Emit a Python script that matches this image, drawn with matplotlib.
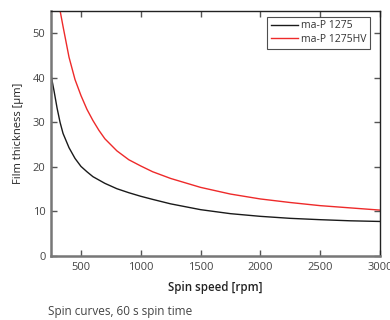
import numpy as np
import matplotlib
matplotlib.use("Agg")
import matplotlib.pyplot as plt

plt.rcParams['font.family'] = ['Open Sans', 'DejaVu Sans']

# spin curves
rpm_1275 = [250, 275, 300, 325, 350, 400, 450, 500, 550, 600, 700, 800, 900,
            1000, 1100, 1250, 1500, 1750, 2000, 2250, 2500, 2750, 3000]
t_1275 = [40.5, 37.0, 33.2, 30.0, 27.5, 24.3, 21.9, 20.1, 18.9, 17.8, 16.3, 15.1, 14.2,
          13.4, 12.7, 11.7, 10.4, 9.5, 8.9, 8.45, 8.15, 7.9, 7.75]

rpm_1275hv = [320, 350, 400, 450, 500, 550, 600, 650, 700, 800, 900, 1000, 1100,
              1250, 1500, 1750, 2000, 2250, 2500, 2750, 3000]
t_1275hv = [55.8, 51.5, 44.6, 39.6, 36.0, 32.9, 30.4, 28.2, 26.3, 23.6, 21.6, 20.2, 18.9,
            17.4, 15.4, 13.9, 12.8, 12.0, 11.3, 10.8, 10.3]

x_ticks = [500, 1000, 1500, 2000, 2500, 3000]
y_ticks = [0, 10, 20, 30, 40, 50]

fig = plt.figure(figsize=(3.9, 3.2), dpi=100)
ax = fig.add_axes([0.131, 0.2, 0.843, 0.766])

ax.plot(rpm_1275, t_1275, color='#1a1a1a', lw=1.0, label='ma-P 1275')
ax.plot(rpm_1275hv, t_1275hv, color='#ee2a2a', lw=1.0, label='ma-P 1275HV')

ax.set_xlim(250, 3000)
ax.set_ylim(0, 55)
ax.set_xticks(x_ticks)
ax.set_yticks(y_ticks)

for side in ['left', 'bottom']:
    ax.spines[side].set_color('#777777')
    ax.spines[side].set_linewidth(1.8)
for side in ['top', 'right']:
    ax.spines[side].set_color('#222222')
    ax.spines[side].set_linewidth(1.0)

ax.tick_params(direction='in', length=4, width=1, colors='#555555',
               labelsize=8, top=True, right=True, pad=4)
ax.tick_params(axis='both', labelcolor='#444444')

ax.set_xlabel('Spin speed [rpm]', fontsize=8.3, fontweight='semibold', color='#222222', labelpad=6)
ax.set_ylabel('Film thickness [µm]', fontsize=8, color='#222222', labelpad=6)

leg = ax.legend(loc='upper right', bbox_to_anchor=(0.97, 0.976), fontsize=7.5,
                frameon=True, fancybox=False, edgecolor='#222222',
                handlelength=2.6, handletextpad=0.3, borderpad=0.35,
                borderaxespad=0, labelspacing=0.25)
leg.get_frame().set_linewidth(0.8)
for t in leg.get_texts():
    t.set_color('#333333')

fig.text(0.123, 0.027, 'Spin curves, 60 s spin time', fontsize=8.5, color='#444444', va='center')

fig.savefig('out.png', dpi=100)
